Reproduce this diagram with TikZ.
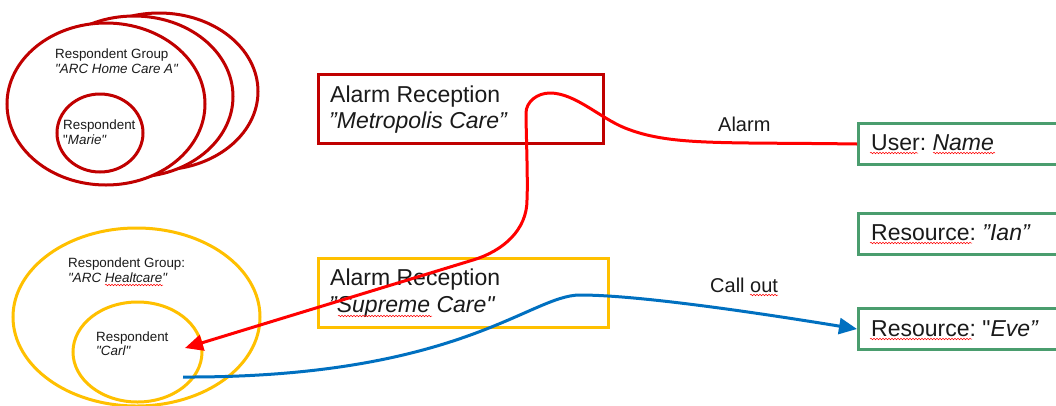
\documentclass[tikz,border=0pt]{standalone}
\usepackage{fontspec}
\setmainfont{Liberation Sans}
\usetikzlibrary{arrows.meta,shapes.geometric,decorations.pathmorphing}
\definecolor{dred}{HTML}{C00000}
\definecolor{ayel}{HTML}{FFC000}
\definecolor{agrn}{HTML}{4A9D6E}
\definecolor{ablu}{HTML}{0070C0}
\definecolor{bred}{HTML}{FF0000}
\definecolor{txt}{HTML}{1A1A1A}
\newcommand{\sq}{\textquotedbl}
\frenchspacing
\begin{document}
\begin{tikzpicture}[x=1pt,y=-1pt,
 ell/.style={ellipse,draw,line width=3pt,fill=white,inner sep=0pt},
 box/.style={rectangle,draw,line width=3pt,inner sep=0pt,anchor=north west},
 big/.style={font=\fontsize{23}{27}\selectfont,text=txt,inner sep=0pt,anchor=base west},
 small/.style={font=\fontsize{13.4}{16}\selectfont,text=txt,inner sep=0pt,anchor=base west},
 lbl/.style={font=\fontsize{20}{24}\selectfont,text=txt,inner sep=0pt,anchor=base west},
 conn/.style={line width=3pt},
 tipstyle/.style={-{Triangle[length=18pt,width=16pt]}},
 squig/.style={draw=bred,line width=0.5pt,decorate,decoration={snake,amplitude=0.8pt,segment length=3pt}}]
\useasboundingbox (0,0) rectangle (1056,405);
\clip (0,0) rectangle (1056,405);
\fill[white] (0,0) rectangle (1056,405);

% red group
\node[ell,draw=dred,minimum width=198,minimum height=157] (g1c) at (159,91.5) {};
\node[ell,draw=dred,minimum width=198,minimum height=161] (g1b) at (134,96.5) {};
\node[ell,draw=dred,minimum width=198,minimum height=162] (g1a) at (106,104) {};
\node[ell,draw=dred,minimum width=86,minimum height=78] (marie) at (100,133) {};
\node[small] (g1t1) at (55,58) {Respondent Group};
\node[small] (g1t2) at (55,73) {\textit{\sq ARC Home Care A\sq}};
\node[small] (mt1) at (63,129) {Respondent};
\node[small] (mt2) at (63,144) {\sq\textit{Marie\sq}};

% yellow group
\node[ell,draw=ayel,minimum width=247,minimum height=178] (g2) at (136.5,317) {};
\node[ell,draw=ayel,minimum width=129,minimum height=100] (carl) at (137.5,352) {};
\node[small] (g2t1) at (68,267) {Respondent Group:};
\node[small] (g2t2) at (68,282) {\textit{\sq ARC Healtcare\sq}};
\node[small] (ct1) at (96,341) {Respondent};
\node[small] (ct2) at (96,355) {\textit{\sq Carl\sq}};

% alarm receptions
\node[box,draw=dred,minimum width=285,minimum height=69] (metro) at (317,73) {};
\node[big] (metro1) at (330,102) {Alarm Reception};
\node[big] (metro2) at (329,128) {\textit{”Metropolis Care”}};
\node[box,draw=ayel,minimum width=290,minimum height=69] (supreme) at (317,257) {};
\node[big] (sup1) at (330,285) {Alarm Reception};
\node[big] (sup2) at (329,312) {\textit{”Supreme Care\sq}};

% green boxes
\node[box,draw=agrn,minimum width=220,minimum height=41] (user) at (857,122) {};
\node[box,draw=agrn,minimum width=220,minimum height=41] (ian) at (857,212) {};
\node[box,draw=agrn,minimum width=220,minimum height=41] (eve) at (857,307) {};
\node[big] (usert) at (871,150) {User: \textit{Name}};
\node[big] (iant) at (871,240) {Resource: \textit{”Ian”}};
\node[big] (evet) at (871,336) {Resource: \sq\textit{Eve”}};

% labels
\node[lbl] (alarm) at (718,131) {Alarm};
\node[lbl] (callout) at (710,292) {Call out};

% spell-check marks
\draw[squig] (105,285) -- (163,285);
\draw[squig] (338,316) -- (432,316);
\draw[squig] (870,153) -- (918,153);
\draw[squig] (933,153) -- (995,153);
\draw[squig] (870,243) -- (972,243);
\draw[squig] (870,339) -- (972,339);
\draw[squig] (750,295) -- (778,295);

% connectors
\coordinate (redtip) at (185,348);
\coordinate (bluestart) at (183,377);
\draw[conn,bred,tipstyle] (user.west) .. controls (720,142) and (670,146) .. (625,128)
  .. controls (600,118) and (575,93) .. (550,93)
  .. controls (537,93) and (526,102) .. (526,113)
  .. controls (526,130) and (528,180) .. (527,200)
  .. controls (527,230) and (503,251) .. (473,260) -- (redtip);
\draw[conn,ablu,tipstyle] (bluestart) .. controls (460,378) and (530,295) .. (580,295)
  .. controls (640,295) and (765,314) .. (eve.west);
\end{tikzpicture}
\end{document}
